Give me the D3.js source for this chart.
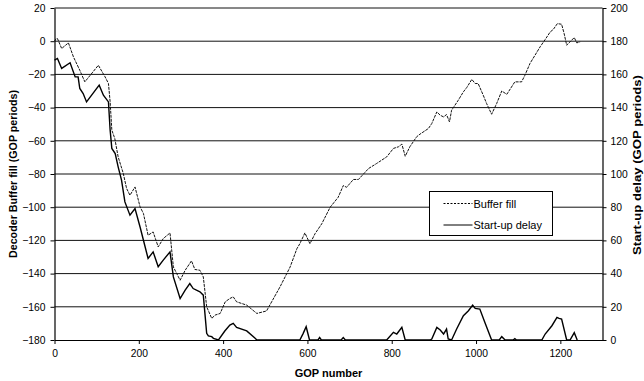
<!DOCTYPE html>
<html lang="en">
<head>
  <meta charset="UTF-8" />
  <title>Decoder buffer fill and start-up delay</title>
  <script src="https://d3js.org/d3.v7.min.js"></script>
  <style>
    body {
      margin: 0;
      background: #fff;
      font-family: "Liberation Sans", Arial, sans-serif;
    }
    svg text {
      font-family: "Liberation Sans", Arial, sans-serif;
      fill: #000;
    }
  </style>
</head>
<body>
  <div id="chart"></div>

  <script>
    // Buffer fill (left axis, GOP periods)
    const bufferGop = [0, 4, 7, 17, 33, 45, 60, 72, 104, 120, 128, 132, 136, 143, 151, 163,
      171, 179, 191, 203, 211, 222, 234, 246, 258, 274, 282, 298, 310, 325, 333, 345, 353, 361,
      373, 381, 393, 405, 416, 424, 432, 456, 480, 503, 535, 559, 575, 582, 594, 606, 618, 634,
      654, 673, 685, 693, 709, 721, 745, 764, 788, 804, 816, 824, 832, 843, 859, 867, 887, 895,
      907, 915, 923, 930, 937, 942, 958, 970, 978, 990, 998, 1005, 1017, 1025, 1037, 1049, 1061,
      1073, 1092, 1108, 1116, 1128, 1140, 1152, 1164, 1176, 1183, 1193, 1203, 1209, 1215, 1223,
      1233, 1239, 1247];
    const bufferFill = [0, 1.6, 1.6, -4.4, -1, -9.5, -17.5, -24.5, -14.5, -21.5, -25.5, -36.6,
      -53.6, -58.6, -69.7, -79.5, -88.7, -92.8, -87.8, -99.8, -103.8, -116.9, -114.9, -123.9,
      -118.9, -115.5, -136, -144, -138, -132.3, -137.5, -138, -142, -160, -167, -165, -164,
      -157, -155, -154, -157, -159, -164, -162.5, -148, -136, -125, -122, -115.5, -122, -116,
      -110, -100, -94, -87, -88, -83.3, -83.3, -76.7, -73.7, -69.7, -64.6, -63.6, -62, -69.3,
      -63.6, -57.6, -56, -52.6, -49.6, -42.6, -44.6, -45.6, -44.2, -48.6, -41.6, -35.5, -30.5,
      -27.9, -23, -25.5, -25.5, -32.5, -37.5, -44, -37.5, -30, -32, -24.5, -24.5, -20.5, -13.4,
      -8.4, -3.4, 1, 5.6, 7, 10.6, 10.2, 4.6, -2.4, -0.4, 2.2, -1, -0.4];

    // Start-up delay (right axis, GOP periods)
    const delayGop = [0, 7, 17, 37, 49, 56, 60, 68, 76, 106, 116, 128, 132, 136, 144, 151, 159,
      167, 179, 191, 203, 211, 222, 234, 246, 258, 274, 282, 298, 310, 321, 329, 345, 353, 361,
      365, 373, 377, 389, 404, 416, 424, 432, 456, 476, 480, 582, 590, 597, 605, 625, 629, 633,
      680, 685, 690, 788, 804, 812, 824, 832, 891, 895, 907, 915, 923, 930, 934, 942, 954, 970,
      982, 992, 998, 1009, 1021, 1037, 1055, 1061, 1069, 1088, 1092, 1096, 1156, 1164, 1180,
      1192, 1197, 1203, 1215, 1223, 1233, 1240];
    const startupDelay = [168.6, 169.6, 163.6, 167, 158.5, 158.5, 151.5, 148.5, 143.4, 153.5,
      147.5, 143.4, 126.4, 115.4, 112.3, 104.3, 96.3, 83.2, 75.2, 79.2, 68.1, 60.1, 49.1, 53.1,
      44.1, 48.1, 53.1, 38, 25, 30, 34, 31, 29, 27, 4, 2.5, 2, 1, 0, 5.4, 9, 10, 7.6, 5.5, 1, 0,
      0, 4, 8, 0, 0, 1.5, 0, 0, 1.5, 0, 0, 4.6, 3.6, 7.6, 0, 0, 0.6, 7.6, 6, 3.6, 6.6, 0.6, 0,
      6.6, 14.6, 17.6, 21, 19, 18.6, 10.6, 0, 0, 2, 0, 0, 0.8, 0, 0, 3.6, 8.6, 13.6, 13, 12.6, 0,
      0, 4.4, 0];

    const xTicks = [0, 200, 400, 600, 800, 1000, 1200];
    const leftTicks = [20, 0, -20, -40, -60, -80, -100, -120, -140, -160, -180];
    const rightTicks = [200, 180, 160, 140, 120, 100, 80, 60, 40, 20, 0];

    const width = 644;
    const height = 381;
    const plotLeft = 54.5, plotRight = 602.5, plotTop = 8, plotBottom = 340;

    const svg = d3.select("#chart")
      .append("svg")
      .attr("width", width)
      .attr("height", height);

    const x = d3.scaleLinear().domain([0, 1300]).range([plotLeft, plotRight]);
    const yLeft = d3.scaleLinear().domain([-180, 20]).range([plotBottom, plotTop]);
    const yRight = d3.scaleLinear().domain([0, 200]).range([plotBottom, plotTop]);

    // gridlines
    svg.append("g")
      .selectAll("line")
      .data(leftTicks.filter(d => d !== -180))
      .enter()
      .append("line")
      .attr("x1", plotLeft)
      .attr("x2", plotRight)
      .attr("y1", d => yLeft(d))
      .attr("y2", d => yLeft(d))
      .attr("stroke", "#111")
      .attr("stroke-width", 1);

    // axes
    const styleAxis = g => {
      g.selectAll("path").attr("stroke", "#000").attr("stroke-width", 1.2);
      g.selectAll("line").attr("stroke", "#000");
      g.selectAll("text").style("font-size", "10.3px");
    };
    const fmt = d3.format("d");

    svg.append("g")
      .attr("transform", `translate(0,${plotBottom})`)
      .call(d3.axisBottom(x).tickValues(xTicks).tickFormat(fmt).tickSize(4).tickSizeOuter(0).tickPadding(6))
      .call(styleAxis);

    svg.append("g")
      .attr("transform", `translate(${plotLeft},0)`)
      .call(d3.axisLeft(yLeft).tickValues(leftTicks).tickFormat(fmt).tickSize(4).tickSizeOuter(0).tickPadding(5))
      .call(styleAxis);

    svg.append("g")
      .attr("transform", `translate(${plotRight},0)`)
      .call(d3.axisRight(yRight).tickValues(rightTicks).tickFormat(fmt).tickSize(4).tickSizeOuter(0).tickPadding(4))
      .call(styleAxis);

    // series
    const bufferLine = d3.line()
      .x((d, i) => x(bufferGop[i]))
      .y(d => yLeft(d));

    const delayLine = d3.line()
      .x((d, i) => x(delayGop[i]))
      .y(d => yRight(d));

    svg.append("path")
      .datum(bufferFill)
      .attr("d", bufferLine)
      .attr("fill", "none")
      .attr("stroke", "#111")
      .attr("stroke-width", 1)
      .attr("stroke-dasharray", "3,1");

    svg.append("path")
      .datum(startupDelay)
      .attr("d", delayLine)
      .attr("fill", "none")
      .attr("stroke", "#000")
      .attr("stroke-width", 1.4);

    // axis titles
    svg.append("text")
      .attr("x", (plotLeft + plotRight) / 2)
      .attr("y", 377)
      .attr("text-anchor", "middle")
      .style("font-size", "11px")
      .style("font-weight", "bold")
      .text("GOP number");

    svg.append("text")
      .attr("transform", "translate(17,258) rotate(-90)")
      .attr("textLength", 168)
      .attr("lengthAdjust", "spacingAndGlyphs")
      .style("font-size", "10px")
      .style("font-weight", "bold")
      .text("Decoder Buffer fill (GOP periods)");

    svg.append("text")
      .attr("transform", "translate(641,255) rotate(-90)")
      .attr("textLength", 180)
      .attr("lengthAdjust", "spacingAndGlyphs")
      .style("font-size", "11px")
      .style("font-weight", "bold")
      .text("Start-up delay (GOP periods)");

    // legend
    const legend = svg.append("g").attr("transform", "translate(429.5,191.5)");
    legend.append("rect")
      .attr("width", 123)
      .attr("height", 44)
      .attr("fill", "#fff")
      .attr("stroke", "#000")
      .attr("stroke-width", 1);

    const legendItems = [
      { label: "Buffer fill", dash: "2,1.5", w: 1 },
      { label: "Start-up delay", dash: null, w: 1 }
    ];
    legendItems.forEach((item, i) => {
      const yy = 12 + i * 21.5;
      legend.append("line")
        .attr("x1", 14)
        .attr("x2", 43)
        .attr("y1", yy)
        .attr("y2", yy)
        .attr("stroke", "#000")
        .attr("stroke-width", item.w)
        .attr("stroke-dasharray", item.dash);
      legend.append("text")
        .attr("x", 44)
        .attr("y", yy + 4)
        .style("font-size", "11px")
        .text(item.label);
    });
  </script>
</body>
</html>
